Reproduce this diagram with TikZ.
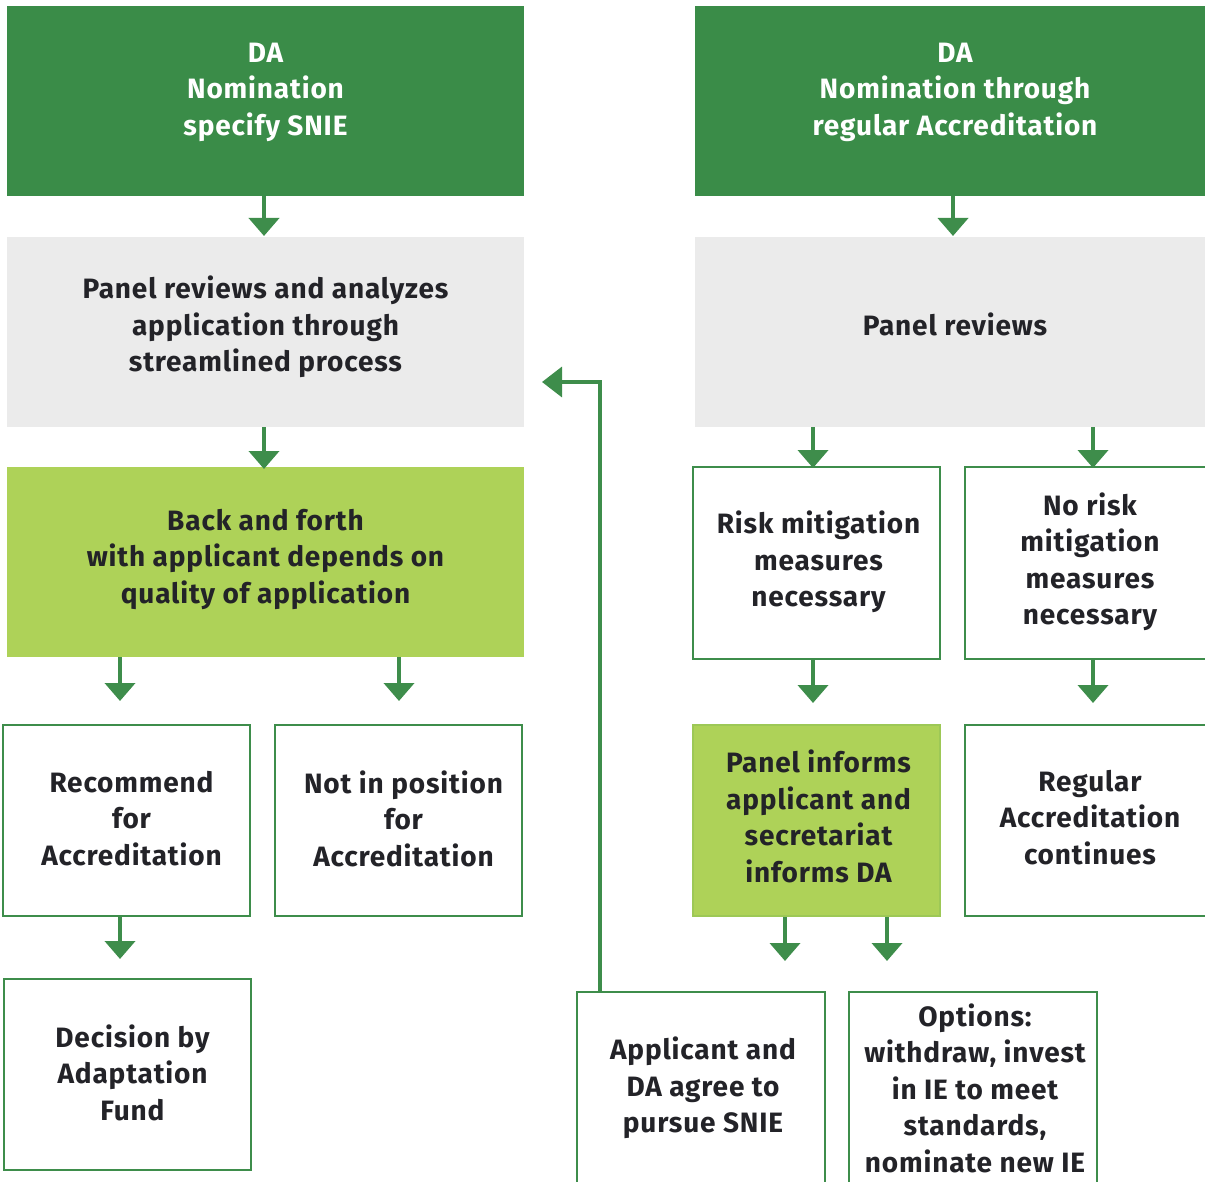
\documentclass[tikz,border=0pt]{standalone}
\usepackage{fontspec}
\setmainfont{Fira Sans}[LetterSpace=3]
\usetikzlibrary{arrows.meta}
\definecolor{dkgreen}{RGB}{58,140,72}
\definecolor{argreen}{RGB}{62,141,75}
\definecolor{ltgreen}{RGB}{174,210,88}
\definecolor{ltgray}{RGB}{235,235,235}
\definecolor{txt}{RGB}{35,35,40}
\tikzset{
  box/.style={rectangle, inner sep=0pt},
  lbl/.style={inner sep=0pt, align=center, font=\fontsize{28}{36.5}\selectfont\bfseries, text=txt},
  hdr/.style={box, fill=dkgreen},
  grey/.style={box, fill=ltgray},
  lime/.style={box, fill=ltgreen},
  outl/.style={box, draw=argreen, line width=2.5pt, fill=white},
  limeb/.style={box, fill=ltgreen, draw=ltgreen!85!argreen, line width=2pt},
  arr/.style={draw=argreen, line width=4pt, -{Triangle[width=30pt,length=18pt]}},
  feed/.style={draw=argreen, line width=3.5pt, -{Triangle[width=30pt,length=20pt]}},
}
\newcommand{\bx}[9]{% style, name, x1, y1, x2, y2, text, xshift, yshift(up)
  \node[#1, minimum width={(#5-#3)*1pt}, minimum height={(#6-#4)*1pt}] (#2) at ({(#3+#5)/2},{(#4+#6)/2}) {};
  \node[lbl, xshift=#8pt, yshift=#9pt, #1-txt] (#2-t) at (#2.center) {#7};}
\tikzset{hdr-txt/.style={text=white}, grey-txt/.style={}, lime-txt/.style={}, outl-txt/.style={}, limeb-txt/.style={}}
\begin{document}
\begin{tikzpicture}[x=1pt,y=-1pt]
\useasboundingbox (0,0) rectangle (1205,1182);
% header boxes
\bx{hdr}{h1}{7}{6}{524}{196}{DA\\Nomination\\specify SNIE}{0}{9}
\bx{hdr}{h2}{695}{6}{1215}{196}{DA\\Nomination through\\regular Accreditation}{0}{9}
% panel boxes
\bx{grey}{p1}{7}{237}{524}{427}{Panel reviews and analyzes\\application through\\streamlined process}{0}{5}
\bx{grey}{p2}{695}{237}{1215}{427}{Panel reviews}{0}{8}
% left
\bx{lime}{bf}{7}{467}{524}{657}{Back and forth\\with applicant depends on\\quality of application}{0}{3}
\bx{outl}{rec}{3}{725}{250}{916}{Recommend\\for\\Accreditation}{5}{2}
\bx{outl}{nip}{275}{725}{522}{916}{Not in position\\for\\Accreditation}{5}{2}
\bx{outl}{dec}{4}{979}{251}{1170}{Decision by\\Adaptation\\Fund}{5}{2}
% right
\bx{outl}{risk}{693}{467}{940}{659}{Risk mitigation\\measures\\necessary}{2}{1}
\bx{outl}{norisk}{965}{467}{1215}{659}{No risk\\mitigation\\measures\\necessary}{0}{1}
\bx{limeb}{inf}{693}{725}{940}{916}{Panel informs\\applicant and\\secretariat\\informs DA}{2}{4}
\bx{outl}{reg}{965}{725}{1215}{916}{Regular\\Accreditation\\continues}{0}{3}
\bx{outl}{app}{577}{992}{825}{1192}{Applicant and\\DA agree to\\pursue SNIE}{2}{4}
\bx{outl}{opt}{849}{992}{1097}{1192}{Options:\\withdraw, invest\\in IE to meet\\standards,\\nominate new IE}{2}{4}
% arrow tips
\coordinate (t1) at (264,236);
\coordinate (t2) at (953,236);
\coordinate (t3) at (264,469);
\coordinate (t4) at (813,468);
\coordinate (t5) at (1093,468);
\coordinate (t6) at (120,701);
\coordinate (t7) at (399,701);
\coordinate (t8) at (813,703);
\coordinate (t9) at (1093,703);
\coordinate (t10) at (785,961);
\coordinate (t11) at (887,961);
\coordinate (t12) at (120,959);
\coordinate (t13) at (542,382);
\draw[arr] (h1.south -| t1) -- (t1);
\draw[arr] (h2.south -| t2) -- (t2);
\draw[arr] (p1.south -| t3) -- (t3);
\draw[arr] (p2.south -| t4) -- (t4);
\draw[arr] (p2.south -| t5) -- (t5);
\draw[arr] (bf.south -| t6) -- (t6);
\draw[arr] (bf.south -| t7) -- (t7);
\draw[arr] (risk.south -| t8) -- (t8);
\draw[arr] (norisk.south -| t9) -- (t9);
\draw[arr] (inf.south -| t10) -- (t10);
\draw[arr] (inf.south -| t11) -- (t11);
\draw[arr] (rec.south -| t12) -- (t12);
\draw[feed] (app.north -| 600,0) |- (t13);
\end{tikzpicture}
\end{document}
